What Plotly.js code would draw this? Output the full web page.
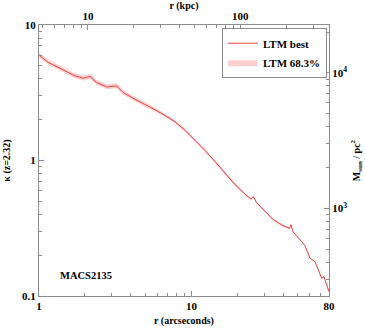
<!DOCTYPE html>
<html>
<head>
<meta charset="utf-8">
<script src="https://cdn.plot.ly/plotly-3.0.1.min.js"></script>
<style>
  html, body { margin: 0; padding: 0; background: #fff; }
  #chart { width: 365px; height: 333px; }
</style>
</head>
<body>
<div id="chart"></div>
<script>
// radius in arcseconds and convergence kappa (z=2.32)
const radius = [1.00, 1.151, 1.409, 1.723, 1.953, 2.161, 2.391, 2.782, 3.235, 3.574,
                4.265, 4.96, 5.77, 6.71, 7.81, 9.08, 10.56, 12.28, 14.29, 16.62,
                19.32, 22.47, 24.61, 25.55, 26.74, 30.41, 34.46, 39.31, 44.03, 45.03,
                46.42, 52.94, 55.66, 60.0, 64.7, 71.6, 74.1, 80.0];
const kappaBest = [5.99, 5.29, 4.72, 4.21, 4.05, 4.17, 3.76, 3.49, 3.55, 3.17,
                   2.83, 2.60, 2.37, 2.15, 1.93, 1.67, 1.419, 1.186, 0.983, 0.808,
                   0.664, 0.565, 0.519, 0.541, 0.489, 0.423, 0.366, 0.333, 0.316, 0.336,
                   0.298, 0.252, 0.235, 0.190, 0.1795, 0.135, 0.139, 0.1076];
const kappaHigh = [6.26, 5.53, 4.93, 4.40, 4.23, 4.36, 3.93, 3.65, 3.71, 3.31,
                   2.94, 2.70, 2.46, 2.21, 1.99, 1.72, 1.454, 1.216, 1.008, 0.828,
                   0.681, 0.579, 0.529, 0.552, 0.499, 0.431, 0.373, 0.340, 0.322, 0.340,
                   0.302, 0.255, 0.238, 0.192, 0.1813, 0.1364, 0.1404, 0.1087];
const kappaLow = [5.75, 5.08, 4.53, 4.04, 3.89, 4.00, 3.61, 3.35, 3.41, 3.04,
                  2.73, 2.51, 2.29, 2.09, 1.88, 1.62, 1.385, 1.158, 0.959, 0.789,
                  0.648, 0.551, 0.509, 0.530, 0.479, 0.415, 0.359, 0.326, 0.310, 0.332,
                  0.294, 0.249, 0.232, 0.188, 0.1777, 0.1337, 0.1376, 0.1065];

// axis conversions
const kpcPerArcsec = 4.77;
const sigmaCrit = 2255; // M_sun / pc^2 for kappa = 1

const xRange = [1, 80];
const yRange = [0.1, 10];

const xMajor = [1, 10, 80];
const yMajor = [0.1, 1, 10];
const kpcMajor = [10, 100];
const massMajor = [1000, 10000];
const massText = ['10<sup>3</sup>', '10<sup>4</sup>'];

const FAMILY = "'Liberation Serif', 'Times New Roman', serif";
const FONT = { family: FAMILY, size: 11, color: '#000', weight: 'bold' };
const TITLE_FONT = { family: FAMILY, size: 10, color: '#000', weight: 'bold' };
const AXIS_COLOR = '#8c8c8c';

function logTicks(lo, hi) {
    const vals = [];
    for (let e = Math.floor(Math.log10(lo)); e <= Math.ceil(Math.log10(hi)); e++) {
        for (let m = 1; m <= 9; m++) {
            const v = m * Math.pow(10, e);
            if (v >= lo * 0.999 && v <= hi * 1.001) vals.push(+v.toPrecision(6));
        }
    }
    return vals;
}

function logAxis(range, major, text, extra) {
    const minorVals = logTicks(range[0], range[1]).filter(v => !major.includes(v));
    return Object.assign({
        type: 'log',
        range: [Math.log10(range[0]), Math.log10(range[1])],
        showgrid: false,
        zeroline: false,
        showline: true,
        linecolor: AXIS_COLOR,
        linewidth: 1,
        ticks: 'inside',
        ticklen: 5,
        tickcolor: AXIS_COLOR,
        tickfont: FONT,
        tickmode: 'array',
        tickvals: major,
        ticktext: text || major.map(String),
        minor: { tickmode: 'array', tickvals: minorVals, ticks: 'inside', ticklen: 3, tickcolor: AXIS_COLOR, showgrid: false }
    }, extra);
}

const kpcRange = [xRange[0] * kpcPerArcsec, xRange[1] * kpcPerArcsec];
const massRange = [yRange[0] * sigmaCrit, yRange[1] * sigmaCrit];

const traces = [
    {
        x: radius, y: kappaLow,
        mode: 'lines', line: { width: 0, color: 'rgba(0,0,0,0)' },
        showlegend: false, hoverinfo: 'skip'
    },
    {
        x: radius, y: kappaHigh,
        mode: 'lines', line: { width: 0, color: 'rgba(0,0,0,0)' },
        fill: 'tonexty', fillcolor: '#fcd0d0',
        name: 'LTM 68.3%', legendrank: 2
    },
    {
        x: radius, y: kappaBest,
        mode: 'lines', line: { width: 1, color: '#e94444' },
        name: 'LTM best', legendrank: 1
    },
    // invisible helpers so the secondary axes are drawn
    { x: kpcRange, y: yRange, xaxis: 'x2', mode: 'markers', marker: { opacity: 0 }, showlegend: false, hoverinfo: 'skip' },
    { x: xRange, y: massRange, yaxis: 'y2', mode: 'markers', marker: { opacity: 0 }, showlegend: false, hoverinfo: 'skip' }
];

const layout = {
    width: 365,
    height: 333,
    margin: { l: 39, r: 36, t: 25, b: 37 },
    paper_bgcolor: '#fff',
    plot_bgcolor: '#fff',
    font: FONT,
    showlegend: true,
    legend: {
        x: 0.993, y: 0.99, xanchor: 'right', yanchor: 'top',
        traceorder: 'normal',
        bgcolor: '#fff', bordercolor: AXIS_COLOR, borderwidth: 1,
        font: { family: FAMILY, size: 11, color: '#000', weight: 'bold' },
        tracegroupgap: 0, itemwidth: 30
    },
    xaxis: logAxis(xRange, xMajor, null, {
        title: { text: 'r (arcseconds)', font: TITLE_FONT, standoff: 5 }
    }),
    yaxis: logAxis(yRange, yMajor, null, {
        title: { text: '\u03ba (z=2.32)', font: TITLE_FONT, standoff: 9 }
    }),
    xaxis2: logAxis(kpcRange, kpcMajor, null, {
        overlaying: 'x', side: 'top', anchor: 'y',
        title: { text: 'r (kpc)', font: TITLE_FONT, standoff: 0 }
    }),
    yaxis2: logAxis(massRange, massMajor, massText, {
        overlaying: 'y', side: 'right', anchor: 'x',
        title: { text: 'M<sub>sun</sub> / pc<sup>2</sup>', font: TITLE_FONT, standoff: 6 }
    }),
    annotations: [{
        text: 'MACS2135', xref: 'paper', yref: 'paper',
        x: 0.065, y: 0.075, xanchor: 'left', yanchor: 'middle',
        showarrow: false, font: { family: FAMILY, size: 10.5, color: '#000', weight: 'bold' }
    }]
};

Plotly.newPlot('chart', traces, layout, { displayModeBar: false, staticPlot: true });
</script>
</body>
</html>
